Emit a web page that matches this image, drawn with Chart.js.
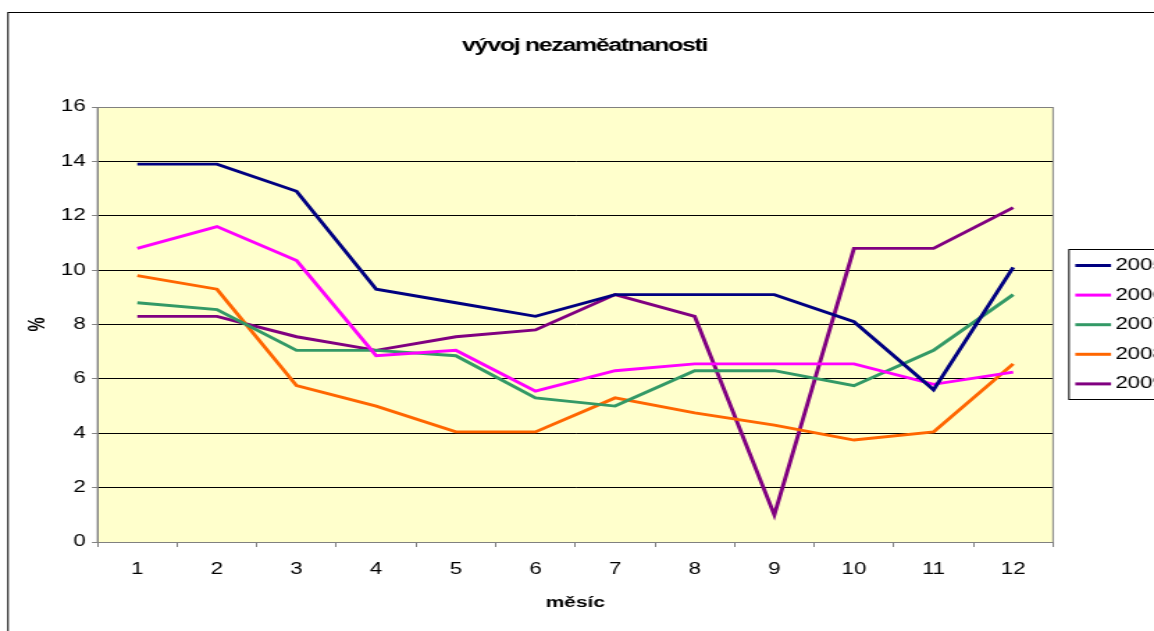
<!DOCTYPE html>
<html>
<head>
<meta charset="utf-8">
<script src="https://cdn.jsdelivr.net/npm/chart.js@4/dist/chart.umd.min.js"></script>
<style>
html,body{margin:0;padding:0;background:#fff;overflow:hidden}
#c{display:block}
</style>
</head>
<body>
<canvas id="c" width="830" height="631" style="width:1154px;height:631px"></canvas>
<script>
// ---- data ----
const categories = ['1','2','3','4','5','6','7','8','9','10','11','12'];
const seriesNames = ['2005','2006','2007','2008','2009'];
const values2005 = [13.9, 13.9, 12.9, 9.3, 8.8, 8.3, 9.1, 9.1, 9.1, 8.1, 5.6, 10.1];
const values2006 = [10.8, 11.6, 10.35, 6.85, 7.05, 5.55, 6.3, 6.55, 6.55, 6.55, 5.8, 6.25];
const values2007 = [8.8, 8.55, 7.05, 7.05, 6.85, 5.3, 5.0, 6.3, 6.3, 5.75, 7.05, 9.1];
const values2008 = [9.8, 9.3, 5.75, 5.0, 4.05, 4.05, 5.3, 4.75, 4.3, 3.75, 4.05, 6.55];
const values2009 = [8.3, 8.3, 7.55, 7.05, 7.55, 7.8, 9.1, 8.3, 1.0, 10.8, 10.8, 12.3];
const yTickMin = 0, yTickMax = 16, yTickStep = 2;
const chartTitle = 'vývoj nezaměatnanosti';
const xAxisTitle = 'měsíc';
const yAxisTitle = '%';
const seriesColors = ['#000080', '#FF00FF', '#339966', '#FF6600', '#800080'];

// ---- layout (internal canvas is 830 wide, stretched to 1154 by CSS like the reference) ----
const FONT = "'Liberation Sans', Arial, sans-serif";
const SX = 1154 / 830;
const PLOT_LEFT = 97.5 / SX, PLOT_RIGHT = 1053 / SX;

const allValues = [values2005, values2006, values2007, values2008, values2009];

const decor = {
  id: 'decor',
  beforeDraw(chart) {
    const {ctx, chartArea: a} = chart;
    ctx.save();
    ctx.fillStyle = '#ffffff';
    ctx.fillRect(0, 0, chart.width, chart.height);
    ctx.strokeStyle = '#000000';
    ctx.lineWidth = 1;
    ctx.strokeRect(8 / SX, 12.5, 2000, 2000);
    ctx.fillStyle = '#FFFFCC';
    ctx.fillRect(a.left, a.top, a.right - a.left, a.bottom - a.top);
    ctx.restore();
  },
  afterDraw(chart) {
    const {ctx, chartArea: a} = chart;
    ctx.save();
    // plot border
    ctx.strokeStyle = '#808080';
    ctx.lineWidth = 1;
    ctx.strokeRect(a.left, Math.round(a.top) + 0.5, a.right - a.left, a.bottom - a.top);
    // title
    ctx.fillStyle = '#000';
    ctx.font = 'bold 18px ' + FONT;
    try { ctx.letterSpacing = '-1px'; } catch (e) {}
    ctx.textAlign = 'center';
    ctx.textBaseline = 'middle';
    ctx.fillText(chartTitle, 584.5 / SX, 46.5);
    try { ctx.letterSpacing = '0px'; } catch (e) {}
    // legend
    const lx = 1069 / SX, ly = 249.5, lh = 150;
    ctx.fillStyle = '#fff';
    ctx.fillRect(lx, ly, 300, lh);
    ctx.strokeStyle = '#000';
    ctx.lineWidth = 1;
    ctx.strokeRect(lx, ly, 300, lh);
    ctx.font = '16px ' + FONT;
    ctx.textAlign = 'left';
    ctx.textBaseline = 'middle';
    chart.data.datasets.forEach((ds, i) => {
      const y = 265.5 + i * 29.6;
      ctx.strokeStyle = ds.borderColor;
      ctx.lineWidth = 3;
      ctx.beginPath();
      ctx.moveTo(1075.3 / SX, y);
      ctx.lineTo(1111 / SX, y);
      ctx.stroke();
      ctx.fillStyle = '#000';
      ctx.fillText(ds.label, 1115.3 / SX, y);
    });
    ctx.restore();
  }
};

new Chart(document.getElementById('c'), {
  type: 'line',
  data: {
    labels: categories,
    datasets: seriesNames.map((name, i) => ({
      label: name,
      data: allValues[i],
      borderColor: seriesColors[i],
      backgroundColor: seriesColors[i],
      borderWidth: 2.9,
      pointRadius: 0,
      tension: 0,
      fill: false
    }))
  },
  options: {
    responsive: false,
    devicePixelRatio: 1,
    animation: false,
    layout: { padding: { left: 0, top: 107, right: 830 - PLOT_RIGHT, bottom: 0 } },
    plugins: {
      legend: { display: false },
      title: { display: false },
      tooltip: { enabled: false }
    },
    scales: {
      x: {
        type: 'category',
        offset: true,
        grid: { offset: true, drawOnChartArea: false, color: '#808080', tickLength: 5, lineWidth: 1 },
        border: { color: '#808080', width: 1 },
        ticks: { color: '#000', font: { family: FONT, size: 16, lineHeight: 1.2 }, padding: 13.4, maxRotation: 0, autoSkip: false },
        title: { display: true, text: xAxisTitle, color: '#000', font: { family: FONT, size: 15, weight: 'bold', lineHeight: 1.2 }, padding: { top: 0, bottom: 19 } },
        afterFit(scale) { scale.height = 631 - 542; }
      },
      y: {
        min: yTickMin,
        max: yTickMax,
        ticks: { stepSize: yTickStep, color: '#000', font: { family: FONT, size: 16, lineHeight: 1.2 }, padding: 4.5 },
        grid: {
          color: (c) => (c.tick && (c.tick.value === yTickMin || c.tick.value === yTickMax)) ? '#808080' : '#000000',
          tickColor: '#808080',
          tickLength: 4,
          lineWidth: 1
        },
        border: { color: '#808080', width: 1 },
        title: { display: true, text: yAxisTitle, color: '#000', font: { family: FONT, size: 16, weight: 'bold', lineHeight: 1.2 }, padding: { top: 17.7, bottom: 0 } },
        afterFit(scale) { scale.width = PLOT_LEFT; }
      }
    }
  },
  plugins: [decor]
});
</script>
</body>
</html>
